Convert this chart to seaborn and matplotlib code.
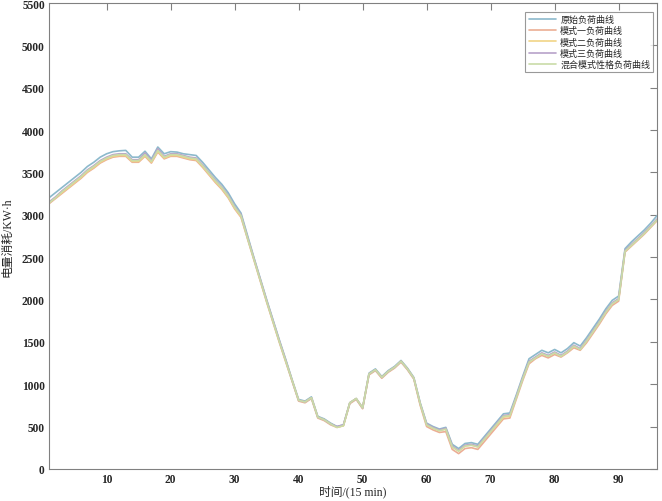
import numpy as np
import pandas as pd
import seaborn as sns
import matplotlib.pyplot as plt

# 96 time slots of 15 min
slots = list(range(1, 97))

original = [3200, 3260, 3320, 3380, 3440, 3500, 3570, 3620, 3680, 3720,
            3745, 3755, 3760, 3680, 3680, 3750, 3660, 3800, 3720, 3745,
            3740, 3720, 3710, 3700, 3620, 3530, 3440, 3360, 3260, 3130,
            3020, 2760, 2500, 2250, 2000, 1760, 1520, 1290, 1050, 820,
            800, 850, 620, 590, 540, 500, 520, 780, 830, 720,
            1130, 1180, 1090, 1160, 1210, 1280, 1190, 1080, 780, 540,
            500, 470, 490, 290, 240, 300, 310, 290, 380, 470,
            560, 650, 660, 870, 1090, 1300, 1350, 1400, 1370, 1410,
            1370, 1420, 1490, 1450, 1550, 1660, 1770, 1890, 1990, 2040,
            2600, 2680, 2750, 2820, 2900, 2990]

mode1 = [3130, 3190, 3250, 3310, 3370, 3430, 3500, 3550, 3610, 3650,
         3680, 3690, 3690, 3620, 3620, 3690, 3610, 3740, 3660, 3690,
         3690, 3670, 3650, 3640, 3560, 3470, 3380, 3300, 3200, 3070,
         2970, 2720, 2470, 2220, 1970, 1730, 1490, 1260, 1030, 800,
         780, 830, 600, 570, 520, 490, 510, 770, 820, 710,
         1110, 1160, 1070, 1140, 1190, 1260, 1170, 1060, 750, 500,
         460, 430, 440, 230, 180, 240, 250, 230, 320, 410,
         500, 590, 600, 820, 1040, 1240, 1300, 1340, 1310, 1350,
         1320, 1370, 1430, 1400, 1490, 1600, 1710, 1830, 1930, 1980,
         2560, 2630, 2700, 2770, 2850, 2930]

mode2 = [3140, 3200, 3260, 3320, 3380, 3440, 3510, 3560, 3620, 3660,
         3690, 3700, 3700, 3630, 3630, 3700, 3620, 3750, 3670, 3700,
         3700, 3680, 3660, 3650, 3570, 3480, 3390, 3310, 3210, 3080,
         2980, 2730, 2480, 2230, 1980, 1740, 1500, 1270, 1040, 810,
         790, 840, 610, 580, 530, 490, 510, 780, 830, 720,
         1120, 1170, 1080, 1150, 1200, 1270, 1180, 1070, 760, 520,
         480, 450, 470, 260, 210, 270, 280, 260, 350, 440,
         520, 610, 620, 840, 1060, 1260, 1310, 1360, 1330, 1370,
         1330, 1380, 1450, 1410, 1510, 1620, 1730, 1850, 1950, 2000,
         2570, 2640, 2710, 2780, 2860, 2940]

mode3 = [3150, 3210, 3280, 3340, 3400, 3460, 3530, 3580, 3640, 3680,
         3710, 3720, 3720, 3650, 3650, 3730, 3640, 3780, 3690, 3720,
         3720, 3700, 3680, 3670, 3590, 3500, 3410, 3330, 3230, 3100,
         3000, 2740, 2490, 2240, 1990, 1750, 1510, 1280, 1040, 810,
         790, 840, 610, 580, 530, 500, 520, 780, 830, 720,
         1120, 1170, 1080, 1150, 1200, 1270, 1180, 1070, 770, 530,
         490, 460, 480, 270, 220, 280, 290, 270, 360, 450,
         540, 630, 640, 850, 1070, 1270, 1320, 1370, 1340, 1380,
         1340, 1390, 1460, 1420, 1520, 1630, 1740, 1860, 1960, 2010,
         2580, 2650, 2720, 2790, 2870, 2950]

mixed = [3140, 3200, 3270, 3330, 3390, 3450, 3520, 3570, 3630, 3670,
         3700, 3710, 3710, 3640, 3640, 3710, 3630, 3760, 3680, 3710,
         3710, 3690, 3670, 3660, 3580, 3490, 3400, 3320, 3220, 3090,
         2990, 2730, 2480, 2230, 1980, 1740, 1500, 1270, 1040, 810,
         790, 840, 610, 580, 530, 490, 510, 780, 830, 720,
         1120, 1170, 1080, 1150, 1200, 1270, 1180, 1070, 770, 520,
         480, 450, 470, 260, 210, 270, 280, 260, 350, 440,
         530, 620, 630, 840, 1060, 1260, 1310, 1360, 1330, 1370,
         1330, 1380, 1450, 1410, 1510, 1620, 1730, 1850, 1950, 2000,
         2570, 2640, 2710, 2780, 2860, 2940]

names = ["原始负荷曲线", "模式一负荷曲线", "模式二负荷曲线", "模式三负荷曲线", "混合模式性格负荷曲线"]
colors = ["#8cb9cc", "#ebae94", "#f1d486", "#b8a2c9", "#c9dba8"]

series = [original, mode1, mode2, mode3, mixed]
frames = []
for name, vals in zip(names, series):
    frames.append(pd.DataFrame({"slot": slots, "load": vals, "curve": name}))
df = pd.concat(frames, ignore_index=True)

sns.set_style("white")
plt.rcParams["font.family"] = ["Liberation Serif", "Noto Sans CJK SC"]

fig = plt.figure(figsize=(6.62, 5.02), dpi=100)
ax = fig.add_axes([0.074, 0.064, 0.9185, 0.928])

sns.lineplot(data=df, x="slot", y="load", hue="curve", palette=dict(zip(names, colors)),
             linewidth=1.2, ax=ax, sort=False)

ax.set_xlim(1, 96)
ax.set_ylim(0, 5500)
ax.set_xticks(range(10, 91, 10))
ax.set_yticks(range(0, 5501, 500))
ax.tick_params(direction="in", top=True, right=True, length=5, width=0.8,
               color="#808080", labelsize=8.3, pad=3)
for lab in ax.get_xticklabels() + ax.get_yticklabels():
    lab.set_fontweight("bold")
for sp in ax.spines.values():
    sp.set_color("#808080")
    sp.set_linewidth(0.8)

ax.set_xlabel("时间/(15 min)", fontsize=8.5, labelpad=0)
ax.set_ylabel("电量消耗/KW·h", fontsize=8.5, labelpad=6)

leg = ax.legend(loc="upper right", bbox_to_anchor=(0.997, 0.985), fontsize=6.5,
                frameon=True, fancybox=False, handlelength=3.0, handletextpad=0.5,
                borderpad=0.35, labelspacing=0.25, borderaxespad=0.2)
leg.get_frame().set_edgecolor("#808080")
leg.get_frame().set_linewidth(0.8)

fig.savefig("out.png", dpi=100)
